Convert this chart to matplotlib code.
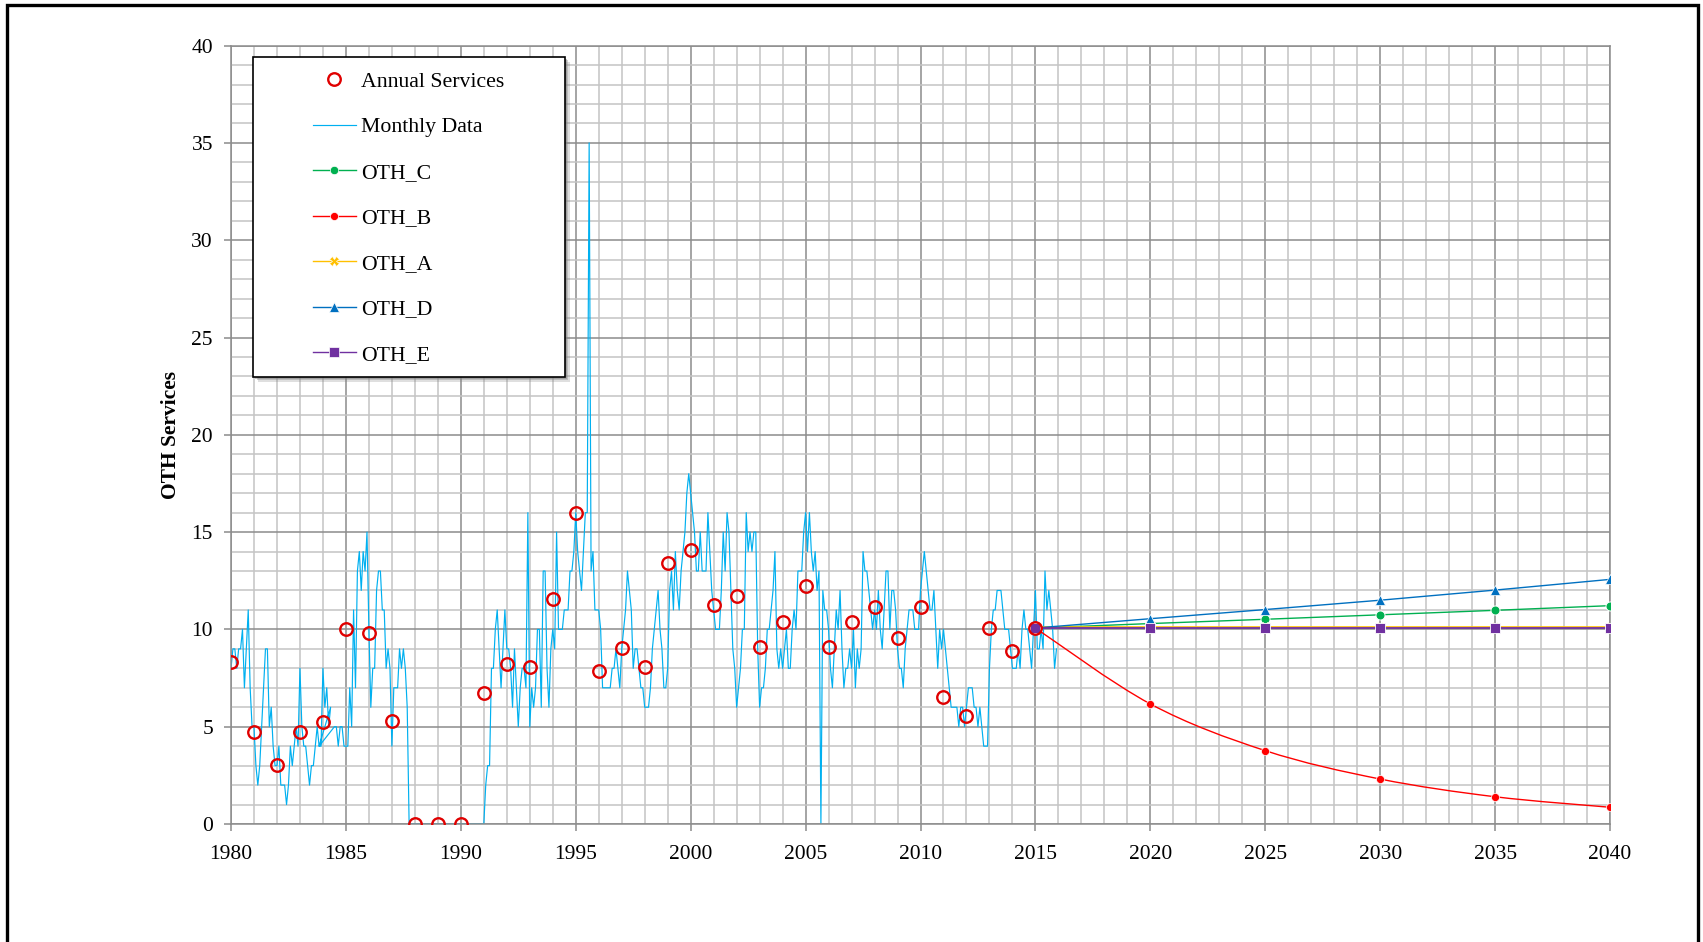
import numpy as np
import matplotlib
matplotlib.use("Agg")
import matplotlib.pyplot as plt
from matplotlib.path import Path
from matplotlib.patches import PathPatch, Rectangle
from matplotlib.lines import Line2D
from matplotlib.ticker import MultipleLocator

plt.rcParams["font.family"] = ["Liberation Serif", "DejaVu Serif"]

# annual services (plotted at the start of each year)
ANNUAL_YEARS = list(range(1980, 2016))
ANNUAL = [8.33, 4.71, 3.03, 4.71, 5.22, 10.0, 9.83, 5.31, 0, 0, 0, 6.71,
          8.24, 8.07, 11.56, 15.98, 7.88, 9.06, 8.07, 13.4, 14.08, 11.25,
          11.73, 9.08, 10.4, 12.23, 9.08, 10.4, 11.17, 9.58, 11.17, 6.54,
          5.55, 10.07, 8.89, 10.07]

# monthly data, Jan..Dec per year
MONTHLY = {
    1980: [8, 9, 9, 8, 9, 9, 10, 7, 9, 11, 7, 5],
    1981: [5, 3, 2, 3, 5, 7, 9, 9, 5, 6, 4, 3],
    1982: [3, 4, 2, 2, 2, 1, 2, 4, 3, 4, 5, 4],
    1983: [8, 5, 4, 4, 3, 2, 3, 3, 4, 5, 4, 4],
    1984: [8, 6, 7, 5, 6, 4, 5, 5, 4, 5, 5, 4],
    1985: [4, 4, 7, 5, 11, 7, 13, 14, 12, 14, 13, 15],
    1986: [10, 6, 8, 8, 12, 13, 13, 11, 11, 8, 9, 8],
    1987: [4, 7, 7, 7, 9, 8, 9, 8, 6, 0, 0, 0],
    1988: [0] * 12,
    1989: [0] * 12,
    1990: [0] * 12,
    1991: [0, 2, 3, 3, 8, 8, 10, 11, 9, 7, 9, 11],
    1992: [9, 9, 8, 6, 9, 7, 5, 7, 8, 8, 7, 16],
    1993: [5, 7, 6, 7, 10, 10, 6, 13, 13, 8, 6, 9],
    1994: [10, 9, 15, 10, 10, 10, 11, 11, 11, 13, 13, 14],
    1995: [16, 14, 13, 12, 14, 16, 16, 35, 13, 14, 11, 11],
    1996: [11, 10, 7, 7, 7, 7, 7, 8, 8, 9, 8, 7],
    1997: [9, 10, 11, 13, 12, 11, 8, 9, 9, 8, 7, 7],
    1998: [6, 6, 6, 7, 9, 10, 11, 12, 10, 9, 7, 7],
    1999: [8, 12, 13, 11, 14, 12, 11, 13, 14, 15, 17, 18],
    2000: [17, 16, 15, 13, 13, 15, 13, 13, 13, 16, 14, 12],
    2001: [11, 10, 10, 10, 12, 15, 13, 16, 15, 12, 9, 8],
    2002: [6, 7, 8, 10, 10, 16, 14, 15, 14, 15, 15, 9],
    2003: [6, 7, 7, 8, 10, 10, 11, 12, 14, 9, 8, 9],
    2004: [8, 9, 10, 8, 8, 10, 11, 10, 13, 13, 13, 15],
    2005: [16, 14, 16, 14, 13, 14, 12, 13, 0, 12, 11, 11],
    2006: [10, 8, 7, 9, 11, 10, 12, 9, 7, 8, 8, 9],
    2007: [8, 10, 7, 9, 8, 9, 14, 13, 13, 12, 11, 10],
    2008: [11, 10, 12, 10, 9, 11, 13, 13, 10, 12, 12, 11],
    2009: [9, 8, 8, 7, 9, 10, 11, 11, 11, 10, 10, 10],
    2010: [12, 13, 14, 13, 12, 11, 11, 12, 10, 8, 10, 9],
    2011: [10, 9, 8, 7, 6, 6, 6, 6, 5, 6, 6, 5],
    2012: [6, 7, 7, 7, 6, 6, 5, 6, 5, 4, 4, 4],
    2013: [8, 10, 11, 11, 12, 12, 12, 11, 10, 10, 10, 9],
    2014: [8, 8, 8, 9, 8, 10, 11, 10, 10, 9, 8, 10],
    2015: [12, 9, 9, 10, 9, 13, 11, 12, 11, 10, 8, 9],
}
# one record out of order in the source sheet: the Jun-1984 row is dated Nov-1983
MISPLACED = (1984, 6, 1983, 11)

# projections
PROJ_YEARS = [2015, 2020, 2025, 2030, 2035, 2040]
OTH_C = [10.07, 10.3, 10.52, 10.75, 10.98, 11.22]
OTH_B = [10.07, 6.17, 3.77, 2.31, 1.40, 0.86]
OTH_A = [10.12, 10.12, 10.12, 10.12, 10.12, 10.12]
OTH_D = [10.07, 10.55, 11.02, 11.5, 12.02, 12.57]
OTH_E = [10.07, 10.07, 10.07, 10.07, 10.07, 10.07]

W, H = 1703, 942


def smooth_path(x, y):
    # Excel-like smoothed line (Catmull-Rom as cubic Bezier)
    pts = np.column_stack([x, y]).astype(float)
    p = np.vstack([pts[0], pts, pts[-1]])
    verts, codes = [pts[0]], [Path.MOVETO]
    for i in range(1, len(p) - 2):
        c1 = p[i] + (p[i + 1] - p[i - 1]) / 6
        c2 = p[i + 1] - (p[i + 2] - p[i]) / 6
        verts += [c1, c2, p[i + 1]]
        codes += [Path.CURVE4] * 3
    return Path(verts, codes)


def main():
    years = sorted(MONTHLY)
    mx, my = [], []
    for y in years:
        for m, v in enumerate(MONTHLY[y]):
            d = y + m / 12
            if (y, m + 1) == MISPLACED[:2]:
                d = MISPLACED[2] + (MISPLACED[3] - 1) / 12
            mx.append(d)
            my.append(v)

    fig = plt.figure(figsize=(W / 100, H / 100), dpi=100)
    ax = fig.add_axes([231 / W, 1 - 824 / H, (1610 - 231) / W, (824 - 45.6) / H])

    c_mon, c_c, c_b, c_a, c_d, c_e = "#00b0f0", "#00b050", "#ff0000", "#ffc000", "#0070c0", "#7030a0"

    ax.plot(mx, my, color=c_mon, lw=0.85, zorder=2)

    ax.plot(PROJ_YEARS, OTH_C, color=c_c, lw=1.0, marker="o", ms=6.5, mec="white", mew=0.7,
            markevery=slice(1, None), zorder=3)
    ax.add_patch(PathPatch(smooth_path(PROJ_YEARS, OTH_B), fill=False, ec=c_b, lw=1.0, zorder=3))
    ax.plot(PROJ_YEARS, OTH_B, color=c_b, ls="none", marker="o", ms=5.8, mec="white", mew=0.5,
            markevery=slice(1, None), zorder=3)
    ax.plot(PROJ_YEARS, OTH_A, color=c_a, lw=1.2, marker="X", ms=7, mec="white", mew=0.5,
            markevery=slice(1, None), zorder=3)
    ax.plot(PROJ_YEARS, OTH_D, color=c_d, lw=1.0, marker="^", ms=7.5, mec="white", mew=0.5,
            markevery=slice(1, None), zorder=3)
    ax.plot(PROJ_YEARS, OTH_E, color=c_e, lw=1.3, marker="s", ms=7.5, mec="white", mew=0.6,
            zorder=3.5)

    ax.plot(ANNUAL_YEARS, ANNUAL, ls="none", marker="o", ms=9, mfc="none", mec="#e00000",
            mew=1.7, zorder=4)

    ax.set_xlim(1980, 2040)
    ax.set_ylim(0, 40)
    ax.xaxis.set_major_locator(MultipleLocator(5))
    ax.xaxis.set_minor_locator(MultipleLocator(1))
    ax.yaxis.set_major_locator(MultipleLocator(5))
    ax.yaxis.set_minor_locator(MultipleLocator(1))
    ax.set_axisbelow(True)
    ax.grid(which="minor", color="#c4c4c4", lw=1.1)
    ax.grid(which="major", color="#8c8c8c", lw=1.1)
    for s in ax.spines.values():
        s.set_color("#8c8c8c")
        s.set_linewidth(1.1)
    ax.tick_params(which="major", direction="out", length=5, width=1.1, color="#8c8c8c",
                   labelsize=15.5, pad=8)
    ax.tick_params(which="minor", length=0)
    ax.tick_params(axis="x", pad=10)

    ax.set_ylabel("OTH Services", fontsize=15.5, fontweight="bold")
    ax.yaxis.set_label_coords(-0.036, 0.5)

    # legend box with shadow
    lx0, ly0, lx1, ly1 = 253.3, 56.7, 564.5, 376.7
    for off, a in [(5, 0.25), (3.5, 0.35), (2, 0.45)]:
        fig.add_artist(Rectangle(((lx0 + off) / W, 1 - (ly1 + off) / H), (lx1 - lx0) / W,
                                 (ly1 - ly0) / H, transform=fig.transFigure,
                                 fc="#808080", ec="none", alpha=a, zorder=2))
    fig.add_artist(Rectangle((lx0 / W, 1 - ly1 / H), (lx1 - lx0) / W, (ly1 - ly0) / H,
                             transform=fig.transFigure, fc="white", ec="black", lw=1.2, zorder=3))

    handles = [
        Line2D([], [], ls="none", marker="o", ms=9, mfc="none", mec="#e00000", mew=1.7),
        Line2D([], [], color=c_mon, lw=0.85),
        Line2D([], [], color=c_c, lw=1.0, marker="o", ms=6, mec="white", mew=0.5),
        Line2D([], [], color=c_b, lw=1.0, marker="o", ms=5.8, mec="white", mew=0.5),
        Line2D([], [], color=c_a, lw=1.0, marker="X", ms=7, mec="white", mew=0.5),
        Line2D([], [], color=c_d, lw=1.0, marker="^", ms=7.5, mec="white", mew=0.5),
        Line2D([], [], color=c_e, lw=1.0, marker="s", ms=7.5, mec="white", mew=0.5),
    ]
    labels = ["Annual Services", "Monthly Data", "OTH_C", "OTH_B", "OTH_A", "OTH_D", "OTH_E"]
    leg = fig.legend(handles, labels, loc="upper left", bbox_to_anchor=(313 / W, 1 - 71.5 / H),
                     frameon=False, fontsize=15.7, borderpad=0, borderaxespad=0,
                     handlelength=1.95, handletextpad=0.25, labelspacing=1.16, numpoints=1)
    leg.set_zorder(5)

    # outer frame
    fig.add_artist(Rectangle((6.5 / W, -0.05), (1697.5 - 6.5) / W, 1.05 - 5 / H,
                             transform=fig.transFigure, fill=False, ec="black", lw=2.4, zorder=6))

    fig.savefig("out.png", dpi=100)


if __name__ == "__main__":
    main()
